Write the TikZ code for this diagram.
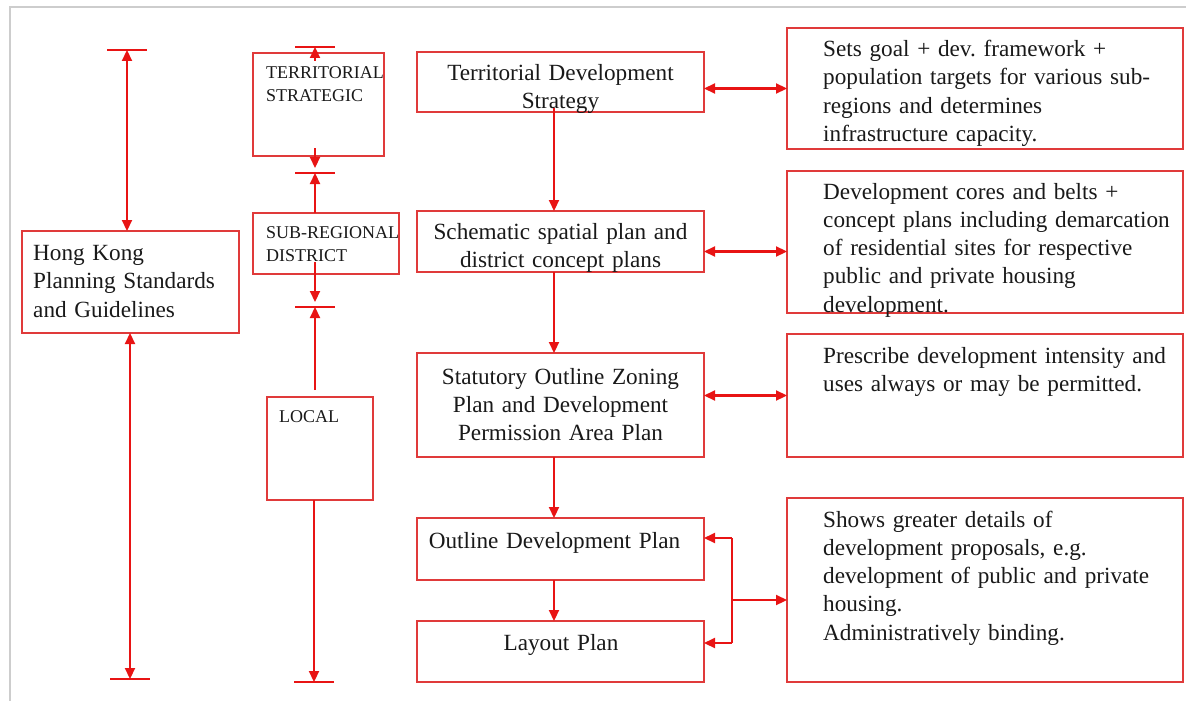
\documentclass[tikz,border=0pt]{standalone}
\usepackage{fontspec}
\setmainfont{Liberation Serif}
\usetikzlibrary{arrows.meta}
\definecolor{boxred}{RGB}{224,58,58}
\definecolor{arrred}{RGB}{232,20,20}
\definecolor{txt}{RGB}{25,25,25}
\definecolor{framegray}{RGB}{205,205,205}
\frenchspacing
\begin{document}
\begin{tikzpicture}[x=1pt,y=-1pt,
  box/.style={draw=boxred, line width=1.7pt, inner sep=0pt, outer sep=0pt},
  arr/.style={draw=arrred, line width=2.2pt, -{Triangle[length=11pt,width=10pt]}},
  dbl/.style={draw=arrred, line width=2.2pt, {Triangle[length=11pt,width=10pt]}-{Triangle[length=11pt,width=10pt]}},
  ln/.style={draw=arrred, line width=2.2pt},
  barline/.style={draw=arrred, line width=1.7pt},
  big/.style={text=txt, inner sep=0pt, font=\fontsize{23.2}{28.3}\selectfont, align=left, anchor=base west, text width=#1},
  small/.style={text=txt, inner sep=0pt, font=\fontsize{18}{23.5}\selectfont, align=left, anchor=base west, text width=140pt},
  cen/.style={text=txt, inner sep=0pt, font=\fontsize{23.2}{27.8}\selectfont, align=center, anchor=base, text width=285pt}
]
\useasboundingbox (0,0) rectangle (1186,701);
\draw[framegray, line width=1.8pt] (10,701) -- (10,7) -- (1186,7);

% boxes
\node[box, minimum width=217pt, minimum height=102pt] (hk) at (130.5,282) {};
\node[box, minimum width=131pt, minimum height=103pt] (ts) at (318.5,104.5) {};
\node[box, minimum width=146pt, minimum height=61pt] (sr) at (326,243.5) {};
\node[box, minimum width=106pt, minimum height=103pt] (loc) at (320,448.5) {};
\node[box, minimum width=287pt, minimum height=60pt] (tds) at (560.5,82) {};
\node[box, minimum width=287pt, minimum height=61pt] (ssp) at (560.5,241.5) {};
\node[box, minimum width=287pt, minimum height=104pt] (soz) at (560.5,405) {};
\node[box, minimum width=287pt, minimum height=62pt] (odp) at (560.5,549) {};
\node[box, minimum width=287pt, minimum height=61pt] (lp) at (560.5,651.5) {};
\node[box, minimum width=396pt, minimum height=121pt] (r1) at (985,88.5) {};
\node[box, minimum width=396pt, minimum height=142pt] (r2) at (985,242) {};
\node[box, minimum width=396pt, minimum height=123pt] (r3) at (985,395.5) {};
\node[box, minimum width=396pt, minimum height=184pt] (r4) at (985,590) {};

% texts
\node[big=210pt] (hkt) at (33,260.5) {Hong Kong\\Planning Standards\\and Guidelines};
\node[small] (tst) at (266,78) {TERRITORIAL\\STRATEGIC};
\node[small] (srt) at (266,238) {SUB-REGIONAL\\DISTRICT};
\node[small] (loct) at (279,422) {LOCAL};

\node[cen] (tdst) at (560.5,80.5) {Territorial Development\\Strategy};
\node[cen] (sspt) at (560.5,239.5) {Schematic spatial plan and\\district concept plans};
\node[cen] (sozt) at (560.5,384.5) {Statutory Outline Zoning\\Plan and Development\\Permission Area Plan};
\node[cen] (odpt) at (554.5,548) {Outline Development Plan};
\node[cen] (lpt) at (561,650.5) {Layout Plan};

\node[big=360pt] (r1t) at (823,56.5) {Sets goal + dev. framework +\\population targets for various sub-\\regions and determines\\infrastructure capacity.};
\node[big=360pt] (r2t) at (823,199) {Development cores and belts +\\concept plans including demarcation\\of residential sites for respective\\public and private housing\\development.};
\node[big=360pt] (r3t) at (823,363) {Prescribe development intensity and\\uses always or may be permitted.};
\node[big=360pt] (r4t) at (823,527) {Shows greater details of\\development proposals, e.g.\\development of public and private\\housing.\\Administratively binding.};

% bars
\coordinate (hkb1) at (127,50);
\coordinate (hkb2) at (130,679);
\coordinate (mb1) at (315,47);
\coordinate (mb2) at (315,173);
\coordinate (mb3) at (315,307);
\coordinate (mb4) at (314,682);
\foreach \b in {hkb1,hkb2,mb1,mb2,mb3,mb4}
  \draw[barline] ([xshift=-20pt]\b) -- ([xshift=20pt]\b);

% left arrows
\draw[dbl] (hkb1) -- (hkb1 |- hk.north);
\draw[dbl] (hkb2 |- hk.south) -- (hkb2);

% middle column arrows
\draw[arr] ([yshift=-8pt]mb1 |- ts.north) -- (mb1);
\draw[arr] ([yshift=8pt]mb2 |- ts.south) -- ([yshift=5pt]mb2);
\draw[arr] (mb2 |- sr.north) -- (mb2);
\draw[arr] ([yshift=12pt]mb3 |- sr.south) -- ([yshift=5pt]mb3);
\draw[arr] ([yshift=7pt]mb3 |- loc.north) -- (mb3);
\draw[arr] (mb4 |- loc.south) -- (mb4);

% central flow
\coordinate (cx) at (554,0);
\draw[arr] ([yshift=4pt]cx |- tds.south) -- (cx |- ssp.north);
\draw[arr] (cx |- ssp.south) -- (cx |- soz.north);
\draw[arr] (cx |- soz.south) -- (cx |- odp.north);
\draw[arr] (cx |- odp.south) -- (cx |- lp.north);

% side arrows
\draw[dbl] (r1.west -| tds.east) -- (r1.west);
\draw[dbl] ([yshift=-10pt]ssp.east) -- ([yshift=-10pt]ssp.east -| r2.west);
\draw[dbl] (r3.west -| soz.east) -- (r3.west);

% bracket
\coordinate (brt) at (732,538);
\coordinate (brb) at (732,643);
\coordinate (brm) at (732,600);
\draw[ln] (brt) -- (brb);
\draw[arr] (brt) -- (brt -| odp.east);
\draw[arr] (brb) -- (brb -| lp.east);
\draw[arr] (brm) -- (brm -| r4.west);
\end{tikzpicture}
\end{document}
